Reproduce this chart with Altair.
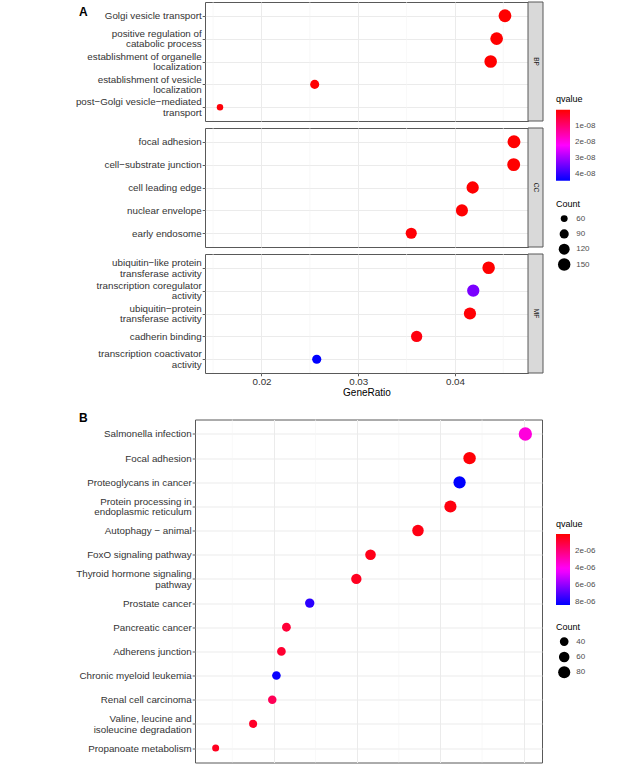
import altair as alt
import pandas as pd

FONT = "Liberation Sans"

# ---------------- Panel A: GO enrichment ----------------
bp_terms = ["Golgi vesicle transport",
            "positive regulation of\ncatabolic process",
            "establishment of organelle\nlocalization",
            "establishment of vesicle\nlocalization",
            "post\u2212Golgi vesicle\u2212mediated\ntransport"]
bp_ratio = [0.04517, 0.04431, 0.04369, 0.02550, 0.01571]
bp_count = [158, 155, 153, 89, 55]
bp_qvalue = [3.1e-12, 8.6e-12, 2.4e-11, 1.9e-10, 6.8e-10]

cc_terms = ["focal adhesion", "cell\u2212substrate junction", "cell leading edge",
            "nuclear envelope", "early endosome"]
cc_ratio = [0.04610, 0.04607, 0.04183, 0.04072, 0.03548]
cc_count = [161, 161, 147, 142, 124]
cc_qvalue = [1.1e-13, 2.5e-13, 4.7e-11, 1.6e-10, 3.9e-10]

mf_terms = ["ubiquitin\u2212like protein\ntransferase activity",
            "transcription coregulator\nactivity",
            "ubiquitin\u2212protein\ntransferase activity",
            "cadherin binding",
            "transcription coactivator\nactivity"]
mf_ratio = [0.04348, 0.04189, 0.04155, 0.03604, 0.02571]
mf_count = [152, 147, 145, 127, 90]
mf_qvalue = [2.8e-11, 3.35e-08, 4.1e-10, 1.2e-09, 4.4e-08]

a_xdomain = [0.01416, 0.04755]
a_ticks = [0.02, 0.03, 0.04]
a_minor = [0.015, 0.025, 0.035, 0.045]
a_qmax = 4.4e-08
a_qlabels = [1e-08, 2e-08, 3e-08, 4e-08]
a_sdomain = [55, 161]
a_counts_legend = [60, 90, 120, 150]

# ---------------- Panel B: KEGG enrichment ----------------
kegg_terms = ["Salmonella infection", "Focal adhesion", "Proteoglycans in cancer",
              "Protein processing in\nendoplasmic reticulum", "Autophagy \u2212 animal",
              "FoxO signaling pathway", "Thyroid hormone signaling\npathway",
              "Prostate cancer", "Pancreatic cancer", "Adherens junction",
              "Chronic myeloid leukemia", "Renal cell carcinoma",
              "Valine, leucine and\nisoleucine degradation", "Propanoate metabolism"]
kegg_ratio = [0.0502, 0.0435, 0.0423, 0.0412, 0.0373, 0.0316, 0.0299,
              0.0243, 0.0215, 0.0209, 0.0203, 0.0198, 0.0175, 0.0130]
kegg_count = [97, 84, 82, 80, 72, 61, 58, 47, 41, 40, 39, 38, 34, 25]
kegg_qvalue = [3.6e-06, 1.2e-07, 8.35e-06, 2.5e-07, 3.1e-07, 4.0e-07, 5.2e-07,
               7.65e-06, 9.0e-07, 8.0e-07, 8.2e-06, 1.4e-06, 6.5e-07, 5.0e-07]

b_xdomain = [0.01052, 0.0522]
b_ticks = [0.02, 0.03, 0.04, 0.05]
b_minor = [0.015, 0.025, 0.035, 0.045]
b_qmax = 8.35e-06
b_qlabels = [2e-06, 4e-06, 6e-06, 8e-06]
b_sdomain = [25, 97]
b_counts_legend = [40, 60, 80]

A_W, A_H = 323, 119
B_W, B_H = 347, 343
STRIP_W = 15
LABEL_EXPR = "split(datum.label, '\\n')"
LABEL_OFFSET = {"condition": {"test": "indexof(datum.label, '\\n') >= 0", "value": -5.35},
                "value": 0}
Q_EXPR = "replace(format(-datum.value, '.0e'), 'e-', 'e-0')"
one = pd.DataFrame({"v": [0]})


def color_enc(qmax, labels, legend_pos):
    # colour is mapped on -qvalue so that the legend shows the smallest q-value on top
    if legend_pos is None:
        leg = None
    else:
        leg = alt.Legend(orient="none", legendX=legend_pos[0], legendY=legend_pos[1],
                         title="qvalue", values=[-v for v in labels], labelExpr=Q_EXPR,
                         gradientLength=71, gradientThickness=14, titlePadding=5.5,
                         labelOffset=5, direction="vertical")
    return alt.Color("negq:Q", scale=alt.Scale(domain=[-qmax, 0], range=["#0000FF", "#FF0000"],
                                               interpolate="hsl"), legend=leg)


def size_enc(domain, srange, values, legend_pos):
    if legend_pos is None:
        leg = None
    else:
        leg = alt.Legend(orient="none", legendX=legend_pos[0], legendY=legend_pos[1],
                         title="Count", values=values, symbolType="circle",
                         symbolFillColor="#000000", symbolStrokeColor="#000000",
                         symbolStrokeWidth=0, symbolOpacity=1, clipHeight=15,
                         rowPadding=0.3, titlePadding=2.6, labelOffset=5.5, symbolOffset=1.7)
    return alt.Size("Count:Q", scale=alt.Scale(domain=domain, range=srange), legend=leg)


def y_enc(terms):
    return alt.Y("term:N", sort=terms, scale=alt.Scale(type="point", padding=0.6),
                 axis=alt.Axis(title=None, labelExpr=LABEL_EXPR, labelOffset=LABEL_OFFSET,
                               grid=True))


def a_panel(terms, ratio, count, q, strip, bottom, legend, letter):
    df = pd.DataFrame({"term": terms, "GeneRatio": ratio, "Count": count, "qvalue": q})
    if bottom:
        xaxis = alt.Axis(values=a_ticks, format=".2f", title="GeneRatio", grid=True)
    else:
        xaxis = alt.Axis(values=a_ticks, labels=False, ticks=False, title=None, grid=True)
    xs = alt.Scale(domain=a_xdomain, nice=False, zero=False)
    minor = alt.Chart(pd.DataFrame({"GeneRatio": a_minor})).mark_rule(
        color="#F3F3F3", strokeWidth=0.6).encode(x=alt.X("GeneRatio:Q", scale=xs, axis=xaxis))
    pts = alt.Chart(df).transform_calculate(negq="-datum.qvalue").mark_circle(opacity=1).encode(
        x=alt.X("GeneRatio:Q", scale=xs, axis=xaxis),
        y=y_enc(terms),
        color=color_enc(a_qmax, a_qlabels, (351, 93.3) if legend else None),
        size=size_enc(a_sdomain, [42, 168], a_counts_legend, (351, 197.5) if legend else None),
    )
    rect = alt.Chart(one).mark_rect(fill="#D9D9D9", stroke="#595959", strokeWidth=1).encode(
        x=alt.value(A_W), x2=alt.value(A_W + STRIP_W), y=alt.value(0), y2=alt.value(A_H))
    stxt = alt.Chart(pd.DataFrame({"s": [strip]})).mark_text(
        angle=90, font=FONT, fontSize=6.5, color="#1A1A1A", align="center", baseline="middle"
    ).encode(x=alt.value(A_W + STRIP_W / 2), y=alt.value(A_H / 2), text="s:N")
    layers = [minor, pts, rect, stxt]
    if letter:
        lt = alt.Chart(one).mark_text(font=FONT, fontSize=12, fontWeight="bold", color="#000000",
                                      align="left", baseline="alphabetic").encode(
            x=alt.value(-126), y=alt.value(13.5), text=alt.value("A"))
        pin = alt.Chart(one).mark_rule(color="white", strokeWidth=1).encode(
            x=alt.value(-195.5), x2=alt.value(-195.5), y=alt.value(0), y2=alt.value(1))
        layers += [lt, pin]
    return alt.layer(*layers).properties(width=A_W, height=A_H)


bp = a_panel(bp_terms, bp_ratio, bp_count, bp_qvalue, "BP", False, True, True)
cc = a_panel(cc_terms, cc_ratio, cc_count, cc_qvalue, "CC", False, False, False)
mf = a_panel(mf_terms, mf_ratio, mf_count, mf_qvalue, "MF", True, False, False)
a_stack = alt.vconcat(bp, cc, mf, spacing=5).resolve_scale(color="shared", size="shared")

# panel B (its x-axis labels lie below the visible area in the reference)
dfb = pd.DataFrame({"term": kegg_terms, "GeneRatio": kegg_ratio, "Count": kegg_count,
                    "qvalue": kegg_qvalue})
bxs = alt.Scale(domain=b_xdomain, nice=False, zero=False)
bxaxis = alt.Axis(values=b_ticks, labels=False, ticks=False, title=None, grid=True)
b_minor_l = alt.Chart(pd.DataFrame({"GeneRatio": b_minor})).mark_rule(
    color="#F3F3F3", strokeWidth=0.6).encode(x=alt.X("GeneRatio:Q", scale=bxs, axis=bxaxis))
b_pts = alt.Chart(dfb).transform_calculate(negq="-datum.qvalue").mark_circle(opacity=1).encode(
    x=alt.X("GeneRatio:Q", scale=bxs, axis=bxaxis),
    y=y_enc(kegg_terms),
    color=color_enc(b_qmax, b_qlabels, (361, 100)),
    size=size_enc(b_sdomain, [49, 177], b_counts_legend, (361, 203)),
)
b_letter = alt.Chart(one).mark_text(font=FONT, fontSize=12, fontWeight="bold", color="#000000",
                                    align="left", baseline="alphabetic").encode(
    x=alt.value(-116), y=alt.value(2.5), text=alt.value("B"))
b_pin = alt.Chart(one).mark_rule(color="white", strokeWidth=1).encode(
    x=alt.value(-185.5), x2=alt.value(-185.5), y=alt.value(0), y2=alt.value(1))
b_chart = alt.layer(b_minor_l, b_pts, b_letter, b_pin).properties(width=B_W, height=B_H)


def spacer():
    return alt.Chart(one).mark_rule(color="white", opacity=0).encode(
        x=alt.value(0), x2=alt.value(0), y=alt.value(0), y2=alt.value(1)
    ).properties(width=1, height=1, view=alt.ViewBackground(stroke="transparent"))


group_a = alt.hconcat(spacer(), a_stack, spacing=0).resolve_scale(
    color="independent", size="independent")
group_b = alt.hconcat(spacer(), b_chart, spacing=0).resolve_scale(
    color="independent", size="independent")

chart = alt.vconcat(group_a, group_b, spacing=13.5).resolve_scale(
    color="independent", size="independent"
).properties(
    padding={"left": 5, "top": 1, "right": 5, "bottom": 5}
).configure(font=FONT).configure_view(
    stroke="#595959", strokeWidth=1
).configure_axis(
    labelFont=FONT, labelFontSize=9.8, labelColor="#333333", labelLineHeight=10.7,
    tickColor="#333333", tickSize=2.8, tickWidth=0.8,
    gridColor="#EBEBEB", gridWidth=1, domain=False,
    titleFont=FONT, titleFontSize=10, titleFontWeight="normal", titleColor="#000000",
    titlePadding=1.4
).configure_axisX(labelPadding=0.5).configure_axisY(labelPadding=1).configure_legend(
    titleFont=FONT, titleFontSize=9, titleFontWeight="normal", titleColor="#000000",
    labelFont=FONT, labelFontSize=8, labelColor="#4D4D4D", padding=0,
    gradientStrokeWidth=0, labelOverlap=False
)

chart.save("out.html", embed_options={"renderer": "svg", "actions": False})
